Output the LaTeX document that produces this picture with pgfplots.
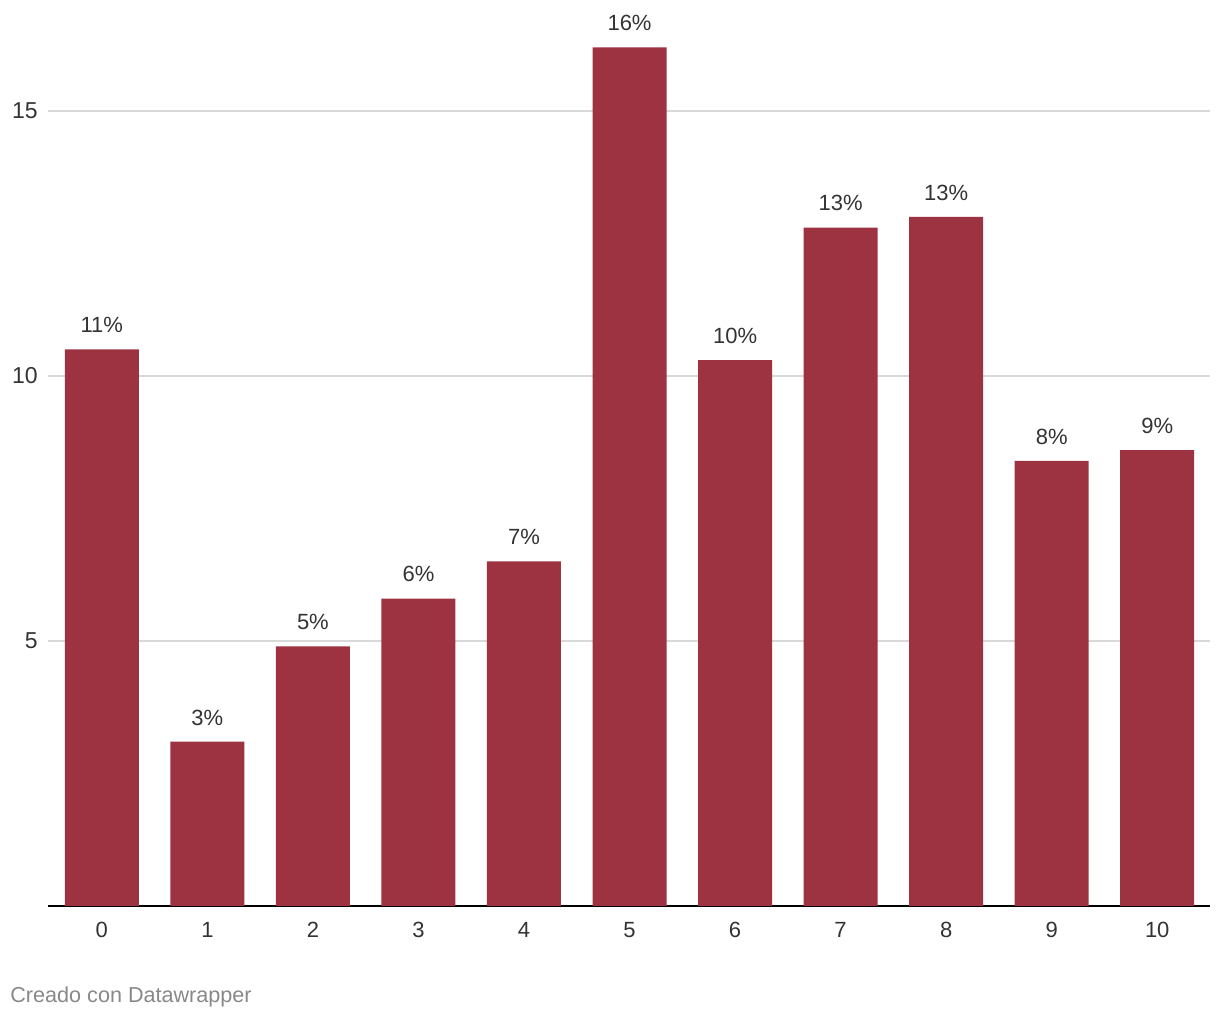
\documentclass[border=0pt]{standalone}
\usepackage{pgfplots}
\pgfplotsset{compat=1.18}
\usepackage{fontspec}
\setmainfont{Liberation Sans}
\definecolor{barred}{RGB}{157,51,65}
\definecolor{txt}{RGB}{51,51,51}
\definecolor{gridc}{RGB}{217,217,217}
\definecolor{foot}{RGB}{136,136,136}
\begin{document}
\begin{tikzpicture}
\path[use as bounding box] (-24pt,-57pt) rectangle (586pt,453pt);
\begin{axis}[
  at={(0,0)}, anchor=south west,
  scale only axis,
  width=581pt, height=450.5pt,
  xmin=-0.51, xmax=10.5,
  ymin=0, ymax=17,
  /pgf/number format/assume math mode=true,
  axis x line*=bottom,
  axis y line*=left,
  y axis line style={draw=none},
  x axis line style={black, line width=1pt, -},
  ytick={5,10,15},
  ymajorgrids,
  grid style={gridc, line width=0.6pt},
  xtick={0,...,10},
  xticklabels={0,1,2,3,4,5,6,7,8,9,10},
  major tick length=0pt,
  tick style={draw=none},
  xticklabel style={font=\fontsize{11}{13}\selectfont, text=txt, inner sep=0pt, anchor=north, yshift=-8pt},
  yticklabel style={font=\fontsize{11.5}{13}\selectfont, text=txt, inner sep=0pt, anchor=east, xshift=-5pt},
  ybar, bar width=37pt,
  nodes near coords,
  point meta=explicit symbolic,
  nodes near coords style={font=\fontsize{11}{13}\selectfont, text=txt, inner sep=0pt, anchor=south, yshift=8pt},
  clip=false,
]
\addplot[fill=barred, draw=none] table[meta=label] {
x y label
0 10.5 11\%
1 3.1 3\%
2 4.9 5\%
3 5.8 6\%
4 6.5 7\%
5 16.2 16\%
6 10.3 10\%
7 12.8 13\%
8 13.0 13\%
9 8.4 8\%
10 8.6 9\%
};
\end{axis}
\node[anchor=west, inner sep=0pt, text=foot, font=\fontsize{10.8}{13}\selectfont] at (-19pt,-45.5pt) {Creado con Datawrapper};
\end{tikzpicture}
\end{document}
